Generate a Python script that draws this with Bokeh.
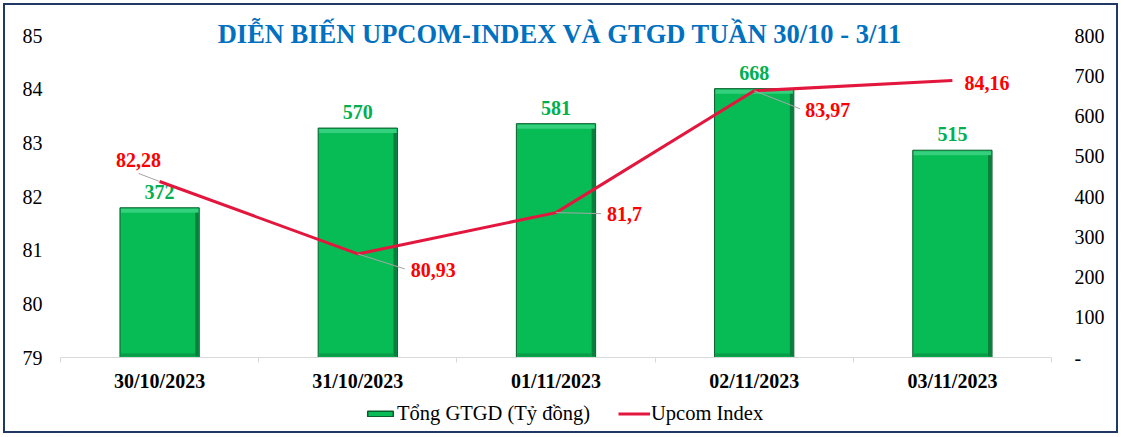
from bokeh.plotting import figure
from bokeh.layouts import column
from bokeh.models import (Range1d, LinearAxis, FixedTicker, Label, Legend, LegendItem,
                          ColumnDataSource)
from bokeh.core.properties import value
from bokeh.embed import file_html
from bokeh.resources import INLINE

# ---------------- data ----------------
dates = ["30/10/2023", "31/10/2023", "01/11/2023", "02/11/2023", "03/11/2023"]
gtgd = [372, 570, 581, 668, 515]                 # Tổng GTGD (Tỷ đồng)
upcom = [82.28, 80.93, 81.70, 83.97, 84.16]      # Upcom Index
upcom_labels = ["82,28", "80,93", "81,7", "83,97", "84,16"]
left_ticks = [79, 80, 81, 82, 83, 84, 85]
right_ticks = [0, 100, 200, 300, 400, 500, 600, 700, 800]
title_text = "DIỄN BIẾN UPCOM-INDEX VÀ GTGD TUẦN 30/10 - 3/11"
legend_labels = ["Tổng GTGD (Tỷ đồng)", "Upcom Index"]

# ---------------- layout / style ----------------
W, H1, H2 = 1121, 400, 36
F_LEFT, F_RIGHT = 60, 1051          # frame x extent (px)
F_TOP, AX_TOP, F_BOT = 12, 35, 357  # frame top, y of the top tick, frame bottom (px)
SERIF = "Liberation Serif"
BAR_GREEN = "#07BB55"
BAR_EDGE = "#0A5E2E"
LINE_RED = "#E3173E"

n = len(dates)
x = [i + 0.5 for i in range(n)]
px_x = (F_RIGHT - F_LEFT) / n
px_l = (F_BOT - AX_TOP) / (left_ticks[-1] - left_ticks[0])
px_r = (F_BOT - AX_TOP) / (right_ticks[-1] - right_ticks[0])
extra = AX_TOP - F_TOP

p = figure(width=W, height=H1, output_backend="svg", toolbar_location=None,
           x_range=Range1d(0, n),
           y_range=Range1d(left_ticks[0], left_ticks[-1] + extra / px_l),
           min_border_left=F_LEFT, min_border_right=W - F_RIGHT,
           min_border_top=F_TOP, min_border_bottom=H1 - F_BOT)
p.outline_line_color = None
p.border_fill_alpha = 0
p.background_fill_alpha = 0
p.grid.visible = False

p.extra_y_ranges = {"bars": Range1d(right_ticks[0], right_ticks[-1] + extra / px_r)}

# axes
p.xaxis.ticker = FixedTicker(ticks=x, minor_ticks=list(range(n + 1)))
p.xaxis.major_label_overrides = {xi: d for xi, d in zip(x, dates)}
p.xaxis.major_tick_line_color = None
p.xaxis.major_tick_out = 0
p.xaxis.major_tick_in = 0
p.xaxis.minor_tick_line_color = "#D9D9D9"
p.xaxis.minor_tick_out = 5
p.xaxis.minor_tick_in = 0
p.xaxis.axis_line_color = "#D9D9D9"
p.xaxis.major_label_text_font = SERIF
p.xaxis.major_label_text_font_style = "bold"
p.xaxis.major_label_text_font_size = "20px"
p.xaxis.major_label_text_color = "black"
p.xaxis.major_label_standoff = 7

p.yaxis.ticker = FixedTicker(ticks=left_ticks)
p.yaxis.axis_line_color = None
p.yaxis.major_tick_line_color = None
p.yaxis.major_tick_out = 0
p.yaxis.major_tick_in = 0
p.yaxis.minor_tick_line_color = None
p.yaxis.major_label_text_font = SERIF
p.yaxis.major_label_text_font_size = "20px"
p.yaxis.major_label_text_color = "black"
p.yaxis.major_label_standoff = 18

raxis = LinearAxis(y_range_name="bars", ticker=FixedTicker(ticks=right_ticks),
                   major_label_overrides={0: "-"})
raxis.axis_line_color = None
raxis.major_tick_line_color = None
raxis.major_tick_out = 0
raxis.major_tick_in = 0
raxis.minor_tick_line_color = None
raxis.major_label_text_font = SERIF
raxis.major_label_text_font_size = "20px"
raxis.major_label_text_color = "black"
raxis.major_label_standoff = 23
p.add_layout(raxis, "right")

# bars (with a simple bevel look)
BAR_W = 0.4
p.vbar(x=x, top=gtgd, bottom=0, width=BAR_W, y_range_name="bars",
       fill_color=BAR_GREEN, line_color=BAR_EDGE, line_width=1)
b_left = [xi - BAR_W / 2 for xi in x]
b_right = [xi + BAR_W / 2 for xi in x]
p.quad(left=[l + 1 / px_x for l in b_left], right=[r - 1 / px_x for r in b_right],
       top=[v - 1 / px_r for v in gtgd], bottom=[v - 5 / px_r for v in gtgd],
       y_range_name="bars", fill_color="#34D07D", line_color=None)
p.quad(left=[r - 4 / px_x for r in b_right], right=[r - 0.5 / px_x for r in b_right],
       top=[v - 5 / px_r for v in gtgd], bottom=[1 / px_r] * n,
       y_range_name="bars", fill_color="#0A7E3C", line_color=None)
p.quad(left=[l + 1 / px_x for l in b_left], right=[r - 4 / px_x for r in b_right],
       top=[4 / px_r] * n, bottom=[1 / px_r] * n,
       y_range_name="bars", fill_color="#0A9A48", line_color=None)

# bar labels
p.text(x=x, y=gtgd, text=[str(v) for v in gtgd], y_range_name="bars",
       text_font=value(SERIF), text_font_style="bold", text_font_size="20px",
       text_color="#00B050", text_align="center", text_baseline="middle",
       y_offset=-16)

# line
p.line(x=x, y=upcom, line_color=LINE_RED, line_width=3)

# line label placement (pixels, relative to each point)
lab_dx = [-21, 53, 51, 51, 12]
lab_dy = [-21, 16, 1, 19, 2]
lab_align = ["center", "left", "left", "left", "left"]
lead_dx = [-21, 47, 45, 46, 0]
lead_dy = [-8, 15, 1, 18, 0]

lead_x1 = [xi + dx / px_x for xi, dx in zip(x, lead_dx)]
lead_y1 = [yi - dy / px_l for yi, dy in zip(upcom, lead_dy)]
p.segment(x0=x, y0=upcom, x1=lead_x1, y1=lead_y1, line_color="#A6A6A6", line_width=1)

src = ColumnDataSource(dict(x=x, y=upcom, t=upcom_labels, dx=lab_dx, dy=lab_dy, al=lab_align))
p.text(x="x", y="y", text="t", source=src, x_offset="dx", y_offset="dy", text_align="al",
       text_font=value(SERIF), text_font_style="bold", text_font_size="20px",
       text_color="#FF0000", text_baseline="middle")

# title
p.add_layout(Label(x=n / 2, y=left_ticks[-1], text=title_text, x_offset=4, y_offset=2,
                   text_font=SERIF, text_font_style="bold", text_font_size="26.5px",
                   text_color="#0070C0", text_align="center", text_baseline="middle"))

# ---------------- legend strip ----------------
q = figure(width=W, height=H2, output_backend="svg", toolbar_location=None,
           x_range=Range1d(0, 1), y_range=Range1d(0, 1),
           x_axis_type=None, y_axis_type=None,
           min_border_left=0, min_border_right=0, min_border_top=0, min_border_bottom=0)
q.outline_line_color = None
q.border_fill_alpha = 0
q.background_fill_alpha = 0
q.grid.visible = False
# legend-only renderers, kept outside the visible range
leg_bar = q.vbar(x=[-5], top=[-5], bottom=[-6], width=0.1,
                 fill_color=BAR_GREEN, line_color=BAR_EDGE, line_width=1.5)
leg_line = q.line(x=[-6, -5], y=[-5, -5], line_color=LINE_RED, line_width=3)
legend = Legend(items=[LegendItem(label=legend_labels[0], renderers=[leg_bar]),
                       LegendItem(label=legend_labels[1], renderers=[leg_line])],
                location=(304, 11), orientation="horizontal",
                glyph_width=32, glyph_height=7, label_standoff=1, spacing=28,
                padding=0, margin=0, border_line_color=None, background_fill_alpha=0,
                label_text_font=SERIF, label_text_font_size="20.5px", label_text_color="black",
                label_height=20)
q.add_layout(legend, "center")

layout = column(p, q, spacing=0,
                styles={"background-color": "white",
                        "outline": "2px solid #1F3864", "outline-offset": "-5px"})

open("out.html", "w").write(file_html(layout, INLINE))
